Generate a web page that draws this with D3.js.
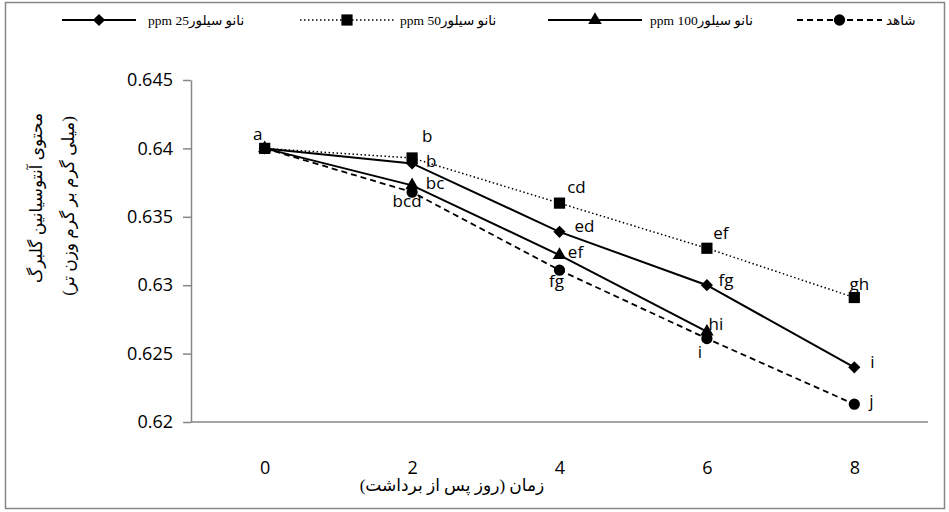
<!DOCTYPE html>
<html>
<head>
<meta charset="utf-8">
<script src="https://cdn.jsdelivr.net/npm/d3@7"></script>
<style>
  html, body { margin: 0; padding: 0; background: #fff; }
  svg { display: block; }
</style>
</head>
<body>
<svg id="chart" width="949" height="512"></svg>
<script>
// Sampling days after harvest
const days = [0, 2, 4, 6, 8];

// Petal anthocyanin content (mg per g fresh weight)
const ppm25 = [0.6400, 0.6389, 0.6339, 0.6300, 0.6240];
const ppm50 = [0.6400, 0.6393, 0.6360, 0.6327, 0.6291];
const ppm100 = [0.6400, 0.6373, 0.6322, 0.6266];
const control = [0.6400, 0.6368, 0.6311, 0.6261, 0.6213];

// Duncan grouping letters
const ppm25Letters = [null, "b", "ed", "fg", "i"];
const ppm50Letters = ["a", "b", "cd", "ef", "gh"];
const ppm100Letters = [null, "bc", "ef", "hi"];
const controlLetters = [null, "bcd", "fg", "i", "j"];

// Series names
const ppm25Name = "ppm 25نانو سیلور";
const ppm50Name = "ppm 50نانو سیلور";
const ppm100Name = "ppm 100نانو سیلور";
const controlName = "شاهد";

const yTicks = [0.62, 0.625, 0.63, 0.635, 0.64, 0.645];
const yTickLabels = ["0.62", "0.625", "0.63", "0.635", "0.64", "0.645"];
const xTickLabels = ["0", "2", "4", "6", "8"];

const yTitle1 = "محتوی آنتوسیانین گلبرگ";
const yTitle2 = "(میلی گرم بر گرم وزن تر)";
const xTitle = "زمان (روز پس از برداشت)";

// Letter placement offsets (px) around each marker
const ppm25LabelOff = [null, [19, -2], [25, -6], [19, -5], [18, -5]];
const ppm50LabelOff = [[-7, -14], [15, -22], [17, -16], [14, -15], [5, -13]];
const ppm100LabelOff = [null, [23, -2], [16, -3], [9, -8]];
const controlLabelOff = [null, [-5, 9], [-3, 11], [-7, 13], [17, -3]];

const svg = d3.select("#chart");
const axisColor = "#868686";
const sansFont = "'Open Sans', 'DejaVu Sans', sans-serif";
const arabicFont = "'Liberation Serif', 'DejaVu Sans', serif";

// Outer chart frame
svg.append("rect")
  .attr("x", 5.5).attr("y", 2.5)
  .attr("width", 939).attr("height", 506)
  .attr("fill", "#fff")
  .attr("stroke", axisColor)
  .attr("stroke-width", 1.5);

const plot = { left: 191, right: 928, top: 80, bottom: 422 };

const x = d3.scalePoint()
  .domain(days)
  .range([plot.left, plot.right])
  .padding(0.5);

const y = d3.scaleLinear()
  .domain([0.62, 0.645])
  .range([plot.bottom, plot.top]);

// Y axis
const yAxis = svg.append("g")
  .attr("transform", `translate(${plot.left},0)`)
  .call(d3.axisLeft(y).tickValues(yTicks)
    .tickFormat((d, i) => yTickLabels[i])
    .tickSize(8).tickSizeOuter(0).tickPadding(10));
yAxis.select(".domain").attr("stroke", axisColor).attr("stroke-width", 1.5);
yAxis.selectAll(".tick line").attr("stroke", axisColor).attr("stroke-width", 1.5);
yAxis.selectAll(".tick text")
  .attr("font-family", sansFont).attr("font-size", 18).attr("fill", "#000");

// X axis baseline with category labels
const xAxis = svg.append("g")
  .attr("transform", `translate(0,${plot.bottom})`)
  .call(d3.axisBottom(x).tickFormat((d, i) => xTickLabels[i])
    .tickSize(0).tickPadding(39));
xAxis.select(".domain").attr("stroke", axisColor).attr("stroke-width", 1.5)
  .attr("d", `M${plot.left},0H${plot.right}`);
xAxis.selectAll(".tick text")
  .attr("font-family", sansFont).attr("font-size", 18).attr("fill", "#000");

// Axis titles
svg.append("text")
  .attr("x", 452).attr("y", 491)
  .attr("text-anchor", "middle")
  .attr("direction", "rtl")
  .attr("font-family", arabicFont).attr("font-size", 17)
  .text(xTitle);

const yt = svg.append("g").attr("transform", "translate(0,198) rotate(-90)");
yt.append("text").attr("x", 0).attr("y", 42)
  .attr("text-anchor", "middle").attr("direction", "rtl")
  .attr("font-family", arabicFont).attr("font-size", 17)
  .text(yTitle1);
yt.append("text").attr("x", -8).attr("y", 74)
  .attr("text-anchor", "middle").attr("direction", "rtl")
  .attr("font-family", arabicFont).attr("font-size", 17)
  .text(yTitle2);

// Marker shapes
const markerPath = {
  diamond: d3.symbol(d3.symbolDiamond2, 95)(),
  square: d3.symbol(d3.symbolSquare2, 160)(),
  triangle: d3.symbol(d3.symbolTriangle2, 130)(),
  circle: d3.symbol(d3.symbolCircle, 100)()
};

const seriesList = [
  { name: ppm100Name, values: ppm100, letters: ppm100Letters, off: ppm100LabelOff, shape: "triangle", dash: null, width: 2 },
  { name: controlName, values: control, letters: controlLetters, off: controlLabelOff, shape: "circle", dash: "6,4", width: 1.8 },
  { name: ppm25Name, values: ppm25, letters: ppm25Letters, off: ppm25LabelOff, shape: "diamond", dash: null, width: 2 },
  { name: ppm50Name, values: ppm50, letters: ppm50Letters, off: ppm50LabelOff, shape: "square", dash: "1.5,2.5", width: 1.5 }
];

const line = d3.line()
  .x((d, i) => x(days[i]))
  .y(d => y(d));

seriesList.forEach(s => {
  const g = svg.append("g");
  g.append("path")
    .attr("d", line(s.values))
    .attr("fill", "none")
    .attr("stroke", "#000")
    .attr("stroke-width", s.width)
    .attr("stroke-dasharray", s.dash);
  g.selectAll("path.mark")
    .data(s.values)
    .join("path")
    .attr("class", "mark")
    .attr("d", markerPath[s.shape])
    .attr("transform", (d, i) => `translate(${x(days[i])},${y(d)})`)
    .attr("fill", "#000");
});

// Grouping letters
seriesList.forEach(s => {
  s.values.forEach((v, i) => {
    if (!s.letters[i]) return;
    svg.append("text")
      .attr("x", x(days[i]) + s.off[i][0])
      .attr("y", y(v) + s.off[i][1])
      .attr("dy", "0.35em")
      .attr("text-anchor", "middle")
      .attr("font-family", sansFont)
      .attr("font-size", 17)
      .attr("fill", "#000")
      .text(s.letters[i]);
  });
});

// Legend
const legendItems = [
  { name: ppm25Name, shape: "diamond", dash: null, width: 2, x0: 62, x1: 136, text: 148 },
  { name: ppm50Name, shape: "square", dash: "1.5,2.5", width: 1.5, x0: 300, x1: 394, text: 400 },
  { name: ppm100Name, shape: "triangle", dash: null, width: 2, x0: 548, x1: 642, text: 650 },
  { name: controlName, shape: "circle", dash: "6,4", width: 1.8, x0: 797, x1: 882, text: 886 }
];
const legendY = 20;
const lg = svg.append("g");
legendItems.forEach(it => {
  lg.append("line")
    .attr("x1", it.x0).attr("x2", it.x1)
    .attr("y1", legendY).attr("y2", legendY)
    .attr("stroke", "#000").attr("stroke-width", it.width)
    .attr("stroke-dasharray", it.dash);
  lg.append("path")
    .attr("d", markerPath[it.shape])
    .attr("transform", `translate(${(it.x0 + it.x1) / 2},${legendY})`)
    .attr("fill", "#000");
  lg.append("text")
    .attr("x", it.text).attr("y", legendY).attr("dy", "0.35em")
    .attr("font-family", arabicFont).attr("font-size", 13.5)
    .text(it.name);
});
</script>
</body>
</html>
